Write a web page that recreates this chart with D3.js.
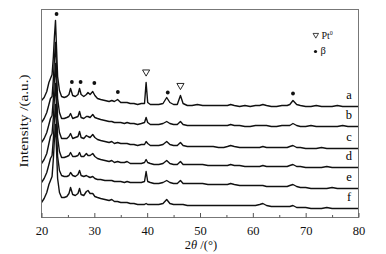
<!DOCTYPE html>
<html>
<head>
<meta charset="utf-8">
<script src="https://cdn.jsdelivr.net/npm/d3@7"></script>
<style>
  body { margin: 0; background: #fff; }
  svg { display: block; font-family: "Liberation Serif", "Times New Roman", serif; }
</style>
</head>
<body>
<svg id="chart" width="386" height="254"></svg>
<script>
// XRD patterns a–f, stacked. Values are heights above each trace's own baseline (a.u.)

const twoTheta = [
  20, 20.5, 21, 21.4, 21.7, 22.0, 22.25, 22.45, 22.65, 22.85,
  23.05, 23.4, 23.8, 24.3, 24.8, 25.2, 25.5, 25.9, 26.4, 26.9,
  27.2, 27.5, 28.0, 28.5, 28.8, 29.2, 29.7, 30.1, 30.6, 31.2,
  32.0, 32.8, 33.3, 33.8, 34.4, 35.0, 35.7, 36.2, 36.8, 37.5,
  38.2, 38.9, 39.5, 39.8, 40.1, 40.6, 41.3, 42.2, 43.0, 43.7,
  44.3, 45.0, 45.7, 46.3, 46.8, 47.6, 48.5, 49.5, 50.5, 51.5,
  52.5, 53.5, 54.5, 55.2, 55.8, 56.5, 57.5, 58.5, 59.5, 60.5,
  61.3, 61.9, 62.6, 63.5, 64.5, 65.5, 66.5, 67.0, 67.6, 68.3,
  69.0, 70.0, 71.0, 72.0, 73.0, 74.0, 75.0, 76.0, 77.0, 78.0,
  79.0, 80.0
];

const seriesA = [
  6, 9, 15, 24, 28, 32, 50, 70, 86, 58,
  30, 16, 10, 9, 10, 12, 18, 11, 10, 12,
  18, 12, 10, 12, 14, 12, 15, 11, 8, 7,
  6, 5, 6, 5, 7, 4, 4, 4, 3, 3,
  2, 3, 3, 24, 4, 2, 2, 2, 3, 9,
  4, 2, 2, 11, 3, 1, 1, 2, 1, 1,
  1, 1, 1, 1, 2, 1, 0, 1, 0, 1,
  1, 2, 1, 0, 0, 1, 1, 2, 6, 2,
  1, 0, 0, 1, 0, 0, 0, 1, 0, 0,
  0, 0
];
const seriesB = [
  4, 8, 14, 22, 28, 30, 48, 68, 84, 55,
  28, 14, 8, 8, 9, 10, 13, 8, 9, 10,
  15, 9, 8, 10, 10, 9, 12, 9, 8, 7,
  6, 5, 5, 4, 4, 4, 3, 4, 3, 3,
  2, 3, 4, 9, 4, 2, 2, 2, 3, 5,
  3, 2, 2, 5, 2, 1, 1, 1, 1, 1,
  1, 1, 1, 1, 2, 1, 1, 0, 0, 1,
  1, 1, 1, 0, 0, 1, 1, 1, 3, 1,
  0, 0, 1, 0, 0, 0, 0, 0, 1, 0,
  0, 0
];
const seriesC = [
  6, 10, 16, 24, 30, 33, 50, 70, 85, 58,
  30, 16, 10, 10, 10, 12, 15, 10, 11, 12,
  17, 11, 10, 13, 12, 11, 14, 11, 9, 8,
  7, 6, 7, 5, 6, 5, 5, 5, 4, 4,
  3, 4, 4, 7, 5, 3, 3, 3, 4, 7,
  4, 3, 3, 6, 3, 2, 2, 2, 2, 2,
  2, 1, 1, 2, 3, 2, 1, 1, 1, 1,
  1, 2, 1, 1, 1, 1, 1, 2, 3, 1,
  1, 0, 0, 0, 1, 0, 0, 0, 0, 0,
  0, 0
];
const seriesD = [
  4, 8, 14, 24, 31, 34, 50, 70, 84, 58,
  30, 16, 10, 10, 11, 12, 15, 11, 11, 12,
  15, 11, 11, 14, 12, 12, 14, 11, 9, 8,
  7, 6, 7, 5, 6, 5, 5, 6, 4, 4,
  4, 4, 5, 8, 5, 4, 3, 3, 4, 7,
  4, 3, 3, 6, 3, 3, 3, 3, 3, 2,
  2, 2, 2, 2, 3, 2, 2, 1, 1, 1,
  1, 2, 1, 1, 1, 1, 1, 2, 3, 1,
  1, 0, 0, 0, 0, 1, 0, 0, 0, 0,
  0, 0
];
const seriesE = [
  6, 10, 16, 24, 30, 33, 50, 70, 84, 58,
  32, 18, 13, 12, 12, 13, 16, 13, 12, 14,
  18, 13, 12, 13, 12, 11, 12, 10, 9, 9,
  8, 8, 8, 7, 7, 7, 6, 7, 6, 6,
  6, 6, 7, 17, 7, 6, 5, 5, 6, 8,
  6, 5, 5, 8, 5, 5, 5, 5, 5, 4,
  4, 4, 4, 4, 5, 4, 3, 3, 3, 3,
  3, 3, 2, 2, 2, 2, 2, 3, 4, 2,
  1, 1, 0, 0, 0, 0, 1, 0, 0, 0,
  0, 0
];
const seriesF = [
  6, 10, 16, 24, 28, 32, 50, 70, 84, 58,
  30, 16, 11, 11, 12, 15, 21, 14, 13, 15,
  20, 14, 13, 17, 18, 15, 15, 12, 11, 10,
  9, 8, 9, 7, 7, 6, 6, 6, 5, 5,
  4, 4, 4, 5, 4, 4, 4, 4, 5, 9,
  5, 4, 4, 4, 4, 3, 3, 3, 3, 3,
  3, 3, 3, 3, 3, 3, 3, 3, 3, 3,
  4, 5, 3, 2, 2, 2, 2, 2, 3, 1,
  1, 1, 0, 0, 0, 1, 0, 0, 0, 0,
  0, 0
];

const seriesNames = ["a", "b", "c", "d", "e", "f"];
const seriesOffsets = [111, 91, 69, 50, 29, 9];
const allSeries = [seriesA, seriesB, seriesC, seriesD, seriesE, seriesF];

// phase markers: [2θ, level in a.u.]
const ptMarks = [[39.8, 145.5], [46.3, 132]];
const betaMarks = [[22.85, 203.5], [25.75, 135.5], [27.4, 135.5], [30.0, 134.5], [34.45, 125.5], [43.9, 125], [67.6, 124]];

const majorTicks = [20, 30, 40, 50, 60, 70, 80];
const minorTicks = [25, 35, 45, 55, 65, 75];

const W = 386, H = 254;
const MARGIN = { top: 9.5, right: 27.5, bottom: 36.5, left: 41.5 };
const innerW = W - MARGIN.left - MARGIN.right;
const innerH = H - MARGIN.top - MARGIN.bottom;

const svg = d3.select("#chart");
const g = svg.append("g").attr("transform", `translate(${MARGIN.left},${MARGIN.top})`);

const x = d3.scaleLinear().domain([20, 80]).range([0, innerW]);
const y = d3.scaleLinear().domain([0, 208]).range([innerH, 0]);

// traces
const line = d3.line()
  .x((d) => x(d[0]))
  .y((d) => y(d[1]));

allSeries.forEach((vals, i) => {
  const pts = vals.map((v, j) => [twoTheta[j], v + seriesOffsets[i]]);
  g.append("path")
    .attr("d", line(pts))
    .attr("fill", "none")
    .attr("stroke", "#111")
    .attr("stroke-width", 1.4)
    .attr("stroke-linejoin", "round");
  g.append("text")
    .attr("x", x(78.2))
    .attr("y", y(seriesOffsets[i]) - 8)
    .attr("text-anchor", "middle")
    .attr("font-size", 12.5)
    .text(seriesNames[i]);
});

// frame
g.append("rect")
  .attr("width", innerW).attr("height", innerH)
  .attr("fill", "none").attr("stroke", "#777").attr("stroke-width", 1);

// x axis, ticks inside
const xAxis = g.append("g").attr("transform", `translate(0,${innerH})`)
  .call(d3.axisBottom(x).tickValues(majorTicks).tickSizeInner(-4.5).tickSizeOuter(0).tickPadding(8.6));
xAxis.select(".domain").remove();
xAxis.selectAll("line").attr("stroke", "#555");
xAxis.selectAll("text")
  .attr("font-family", "Liberation Serif, serif")
  .attr("font-size", 12.5)
  .attr("fill", "#111");

const xMinor = g.append("g").attr("transform", `translate(0,${innerH})`)
  .call(d3.axisBottom(x).tickValues(minorTicks).tickSizeInner(-2.5).tickSizeOuter(0).tickFormat(""));
xMinor.select(".domain").remove();
xMinor.selectAll("line").attr("stroke", "#555");

// axis titles
const xt = svg.append("text")
  .attr("x", MARGIN.left + innerW / 2 + 1)
  .attr("y", 248.5)
  .attr("text-anchor", "middle")
  .attr("font-size", 12.5)
  .attr("fill", "#111");
xt.append("tspan").text("2");
xt.append("tspan").attr("font-style", "italic").text("θ");
xt.append("tspan").text(" /(°)");

svg.append("text")
  .attr("transform", "translate(28,121) rotate(-90)")
  .attr("text-anchor", "middle")
  .attr("font-size", 12.5)
  .attr("fill", "#111")
  .attr("textLength", 93)
  .attr("lengthAdjust", "spacingAndGlyphs")
  .text("Intensity /(a.u.)");

// phase markers
const tri = d3.symbol().type(d3.symbolTriangle);
g.selectAll("path.pt").data(ptMarks).join("path")
  .attr("class", "pt")
  .attr("d", tri.size(22)())
  .attr("transform", (d) => `translate(${x(d[0])},${y(d[1])}) rotate(180)`)
  .attr("fill", "#fff").attr("stroke", "#111").attr("stroke-width", 0.9);

g.selectAll("circle.beta").data(betaMarks).join("circle")
  .attr("class", "beta")
  .attr("cx", (d) => x(d[0])).attr("cy", (d) => y(d[1]))
  .attr("r", 1.9).attr("fill", "#111");

// legend
const lg = svg.append("g");
lg.append("path")
  .attr("d", tri.size(13)())
  .attr("transform", "translate(315.8,35) rotate(180)")
  .attr("fill", "#fff").attr("stroke", "#111").attr("stroke-width", 0.8);
const ptTxt = lg.append("text").attr("x", 321.5).attr("y", 38.5).attr("font-size", 10).attr("fill", "#111");
ptTxt.append("tspan").text("Pt");
ptTxt.append("tspan").attr("font-size", 6).attr("dy", -4).text("0");
lg.append("circle").attr("cx", 315.5).attr("cy", 51.5).attr("r", 1.6).attr("fill", "#111");
lg.append("text").attr("x", 320.5).attr("y", 54).attr("font-size", 10.5).attr("fill", "#111").text("β");
</script>
</body>
</html>
